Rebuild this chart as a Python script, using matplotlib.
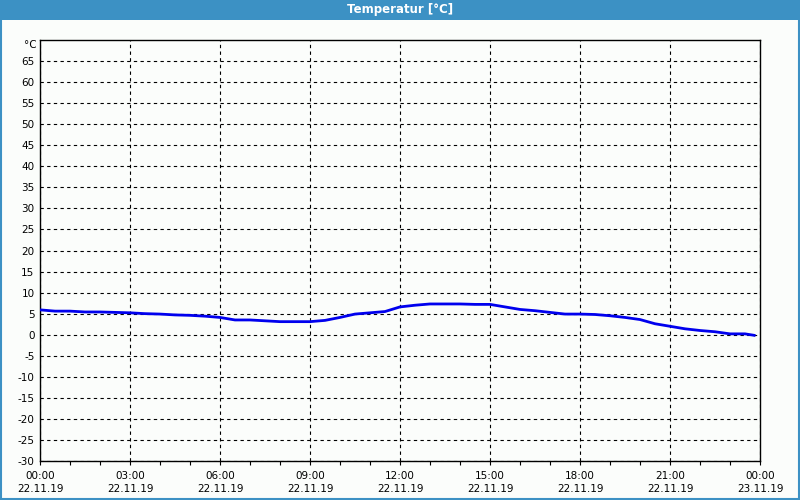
"""Temperatur [°C] - Tagesverlauf 22.11.19"""

import matplotlib
matplotlib.use('Agg')
import matplotlib.pyplot as plt
from matplotlib.patches import Rectangle
from matplotlib.ticker import MultipleLocator

# Messwerte (Stunden ab 22.11.19 00:00, Temperatur in °C)
hours = [0.0, 0.5, 1.0, 1.5, 2.0, 2.5, 3.0, 3.5, 4.0, 4.5, 5.0, 5.5,
         6.0, 6.5, 7.0, 7.5, 8.0, 8.5, 9.0, 9.5, 10.0, 10.5, 11.0, 11.5,
         12.0, 12.5, 13.0, 13.5, 14.0, 14.5, 15.0, 15.5, 16.0, 16.5, 17.0, 17.5,
         18.0, 18.5, 19.0, 19.5, 20.0, 20.5, 21.0, 21.5, 22.0, 22.5, 23.0, 23.5, 23.85]
temps = [5.9, 5.6, 5.6, 5.4, 5.4, 5.3, 5.2, 5.0, 4.9, 4.7, 4.6, 4.4,
         4.1, 3.5, 3.5, 3.3, 3.1, 3.1, 3.1, 3.4, 4.1, 4.9, 5.2, 5.5,
         6.6, 7.0, 7.3, 7.3, 7.3, 7.2, 7.2, 6.6, 6.0, 5.7, 5.3, 4.9,
         4.9, 4.8, 4.5, 4.1, 3.6, 2.6, 2.0, 1.4, 1.0, 0.7, 0.2, 0.2, -0.2]

x_ticks = [0, 3, 6, 9, 12, 15, 18, 21, 24]
x_labels = ['00:00\n22.11.19', '03:00\n22.11.19', '06:00\n22.11.19',
            '09:00\n22.11.19', '12:00\n22.11.19', '15:00\n22.11.19',
            '18:00\n22.11.19', '21:00\n22.11.19', '00:00\n23.11.19']
y_ticks = list(range(-30, 70, 5))

bg = '#fbfdfb'
frame_blue = '#3c91c4'

plt.rcParams['font.family'] = ['DejaVu Sans']

fig = plt.figure(figsize=(8, 5), dpi=100, facecolor=bg)
ax = fig.add_axes([0.05, 0.078, 0.90, 0.842], facecolor=bg)

# Titelleiste und Fensterrahmen
fig.patches.append(Rectangle((0, 0.96), 1, 0.04, transform=fig.transFigure,
                             facecolor=frame_blue, edgecolor='none', zorder=0))
fig.patches.append(Rectangle((0.001, 0.002), 0.998, 0.997, transform=fig.transFigure,
                             facecolor='none', edgecolor=frame_blue, linewidth=1.5, zorder=1))
fig.text(0.5, 0.98, 'Temperatur [°C]', ha='center', va='center',
         color='white', fontsize=8.5, fontweight='bold')

ax.plot(hours, temps, color='#0000ee', linewidth=2.0, solid_capstyle='butt', zorder=3)

ax.set_xlim(0, 24)
ax.set_ylim(-30, 70)
ax.set_xticks(x_ticks)
ax.set_xticklabels(x_labels, fontsize=7.5, linespacing=1.45)
ax.xaxis.set_minor_locator(MultipleLocator(1))
ax.tick_params(axis='x', which='both', direction='out', length=3, width=0.8, pad=4)
ax.set_yticks(y_ticks)
ax.set_yticklabels([str(v) for v in y_ticks], fontsize=7.5)
ax.tick_params(axis='y', length=0, pad=4)
ax.text(-0.1, 68.8, '°C', ha='right', va='center', fontsize=7.5)

ax.grid(True, color='black', linestyle=(0, (3, 3)), linewidth=0.8)
for sp in ax.spines.values():
    sp.set_linewidth(1.0)
    sp.set_color('black')

fig.savefig('out.png', dpi=100, facecolor=bg)
